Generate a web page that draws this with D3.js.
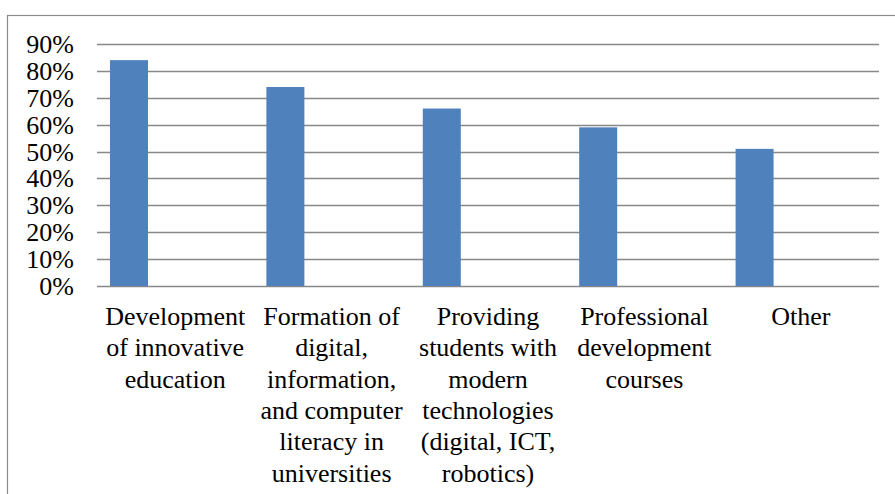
<!DOCTYPE html>
<html>
<head>
<meta charset="utf-8">
<script src="https://cdn.jsdelivr.net/npm/d3@7"></script>
</head>
<body style="margin:0">
<script>
// data
var categories = ["Development of innovative education",
  "Formation of digital, information, and computer literacy in universities",
  "Providing students with modern technologies (digital, ICT, robotics)",
  "Professional development courses",
  "Other"];
var labelLines = [
  ["Development", "of innovative", "education"],
  ["Formation of", "digital,", "information,", "and computer", "literacy in", "universities"],
  ["Providing", "students with", "modern", "technologies", "(digital, ICT,", "robotics)"],
  ["Professional", "development", "courses"],
  ["Other"]
];
var values = [0.84, 0.74, 0.66, 0.59, 0.51];
var yTicks = [0, 0.1, 0.2, 0.3, 0.4, 0.5, 0.6, 0.7, 0.8, 0.9];

var width = 895, height = 494;
var svg = d3.select("body").append("svg")
    .attr("width", width)
    .attr("height", height)
    .attr("font-family", "Times New Roman")
    .attr("font-size", 26);

// outer frame (runs off the right and bottom edge)
svg.append("rect")
    .attr("x", 7.5).attr("y", 15.5)
    .attr("width", 900).attr("height", 500)
    .attr("fill", "none")
    .attr("stroke", "#8c8c8c")
    .attr("stroke-width", 1.2);

var x = d3.scaleBand().domain(categories).range([97, 879]);
var y = d3.scaleLinear().domain([0, 0.9]).range([286, 44]);

// gridlines
svg.append("g").selectAll("line")
    .data(yTicks)
    .enter().append("line")
    .attr("x1", 97).attr("x2", 879)
    .attr("y1", function(d){ return Math.round(y(d)) + 0.5; })
    .attr("y2", function(d){ return Math.round(y(d)) + 0.5; })
    .attr("stroke", "#888888")
    .attr("stroke-width", 1.6);

// y labels
svg.selectAll(".ylab")
    .data(yTicks)
    .enter().append("text")
    .attr("class", "ylab")
    .attr("x", 74)
    .attr("y", function(d){ return y(d) + 9; })
    .attr("text-anchor", "end")
    .attr("font-family", "Times New Roman")
    .attr("fill", "#000")
    .text(d3.format(".0%"));

// bars sit in the left part of each band
var bw = x.bandwidth();
svg.append("g").selectAll("rect")
    .data(values)
    .enter().append("rect")
    .attr("x", function(d, i){ return x(categories[i]) + bw * 0.083; })
    .attr("width", bw * 0.243)
    .attr("y", function(d){ return y(d); })
    .attr("height", function(d){ return y(0) - y(d); })
    .attr("fill", "#4f81bd");

// category labels, one text per line
labelLines.forEach(function(lines, i){
  svg.selectAll(".cat" + i)
      .data(lines)
      .enter().append("text")
      .attr("class", "cat" + i)
      .attr("x", x(categories[i]) + bw / 2)
      .attr("y", function(d, j){ return 325 + j * 31.3; })
      .attr("text-anchor", "middle")
      .attr("font-family", "Times New Roman")
      .attr("fill", "#000")
      .text(function(d){ return d; });
});
</script>
</body>
</html>
